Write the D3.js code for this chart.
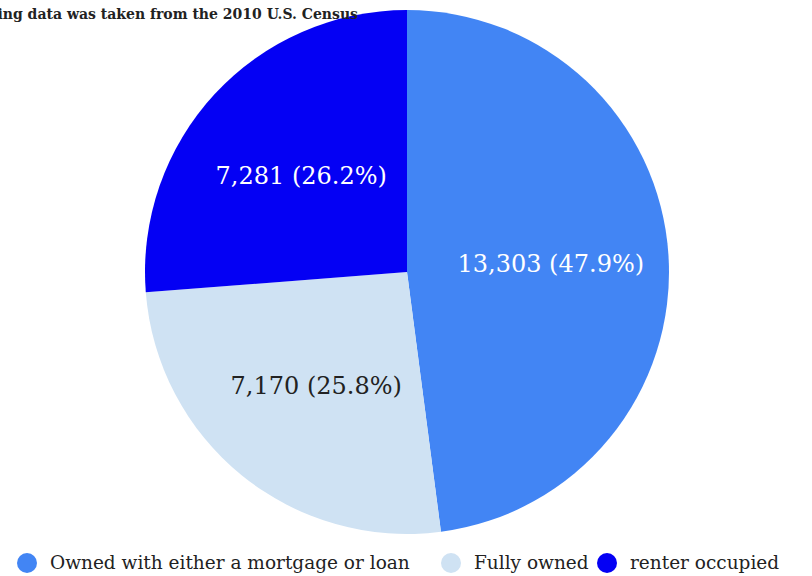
<!DOCTYPE html>
<html>
<head>
<meta charset="utf-8">
<script src="https://cdn.jsdelivr.net/npm/d3@7"></script>
<style>
  body { margin:0; background:#fff; }
  svg { display:block; font-family:"DejaVu Serif","Liberation Serif",serif; }
</style>
</head>
<body>
<svg id="chart" width="812" height="576"></svg>
<script>
var categories = ["Owned with either a mortgage or loan","Fully owned","renter occupied"];
var values = [13303, 7170, 7281];
var colors = ["#4285f4","#cfe2f3","#0400f4"];
var labelColors = ["#ffffff","#222222","#ffffff"];
var title = "Following data was taken from the 2010 U.S. Census";

var svg = d3.select('#chart');
var width = 812, height = 576;
var cx = 407, cy = 272, radius = 262;

var data = categories.map(function(c,i){ return {name:c, value:values[i], color:colors[i], text:labelColors[i]}; });
var total = d3.sum(values);

var pie = d3.pie().sort(null).value(function(d){return d.value});
var arc = d3.arc().innerRadius(0).outerRadius(radius);
var labelArc = d3.arc().innerRadius(radius*0.55).outerRadius(radius*0.55);

var g = svg.append('g').attr('transform','translate('+cx+','+cy+')');

g.selectAll('path')
  .data(pie(data))
  .enter()
  .append('path')
  .attr('d',arc)
  .style('fill',function(d){return d.data.color})
  .style('stroke','none');

var fmt = d3.format(',');
g.selectAll('.slice-label')
  .data(pie(data))
  .enter()
  .append('text')
  .attr('class','slice-label')
  .attr('transform',function(d){return 'translate('+labelArc.centroid(d)+')'})
  .attr('text-anchor','middle')
  .attr('dy','0.4em')
  .style('font-size','24px')
  .style('fill',function(d){return d.data.text})
  .text(function(d){return fmt(d.data.value)+' ('+(d.data.value/total*100).toFixed(1)+'%)'});

// title runs off the left edge, as in the source chart
svg.append('text')
  .attr('x',358)
  .attr('y',19)
  .attr('text-anchor','end')
  .style('font-size','14px')
  .style('font-weight','bold')
  .style('fill','#222')
  .text(title);

// legend
var legendX = [27, 451, 607];
var legend = svg.selectAll('.legend')
  .data(data)
  .enter()
  .append('g')
  .attr('class','legend')
  .attr('transform',function(d,i){return 'translate('+legendX[i]+',563)'});

legend.append('circle')
  .attr('r',10)
  .style('fill',function(d){return d.color});

legend.append('text')
  .attr('x',23)
  .attr('dy','0.35em')
  .style('font-size','18.5px')
  .style('fill','#222')
  .text(function(d){return d.name});
</script>
</body>
</html>
